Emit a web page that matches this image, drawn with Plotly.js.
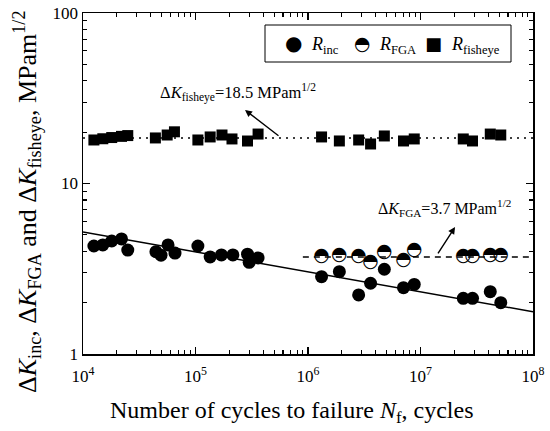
<!DOCTYPE html>
<html><head><meta charset="utf-8">
<script src="https://cdn.plot.ly/plotly-3.0.1.min.js"></script>
<style>html,body{margin:0;padding:0;background:#fff}</style>
</head><body>
<div id="chart" style="width:550px;height:431px"></div>
<script>
// ---- data ----
const N_short_inc = [1.25e4, 1.5e4, 1.8e4, 2.2e4, 2.5e4, 4.45e4, 4.94e4, 5.7e4, 6.57e4, 1.05e5, 1.35e5, 1.7e5, 2.15e5, 2.9e5, 3.0e5, 3.6e5];
const K_inc_short = [4.30, 4.36, 4.60, 4.73, 4.07, 3.98, 3.80, 4.36, 3.91, 4.30, 3.71, 3.81, 3.81, 3.85, 3.45, 3.66];
const N_short_fe = [1.25e4, 1.5e4, 1.8e4, 2.2e4, 2.5e4, 4.4e4, 5.6e4, 6.5e4, 1.05e5, 1.35e5, 1.72e5, 2.11e5, 2.9e5, 3.6e5];
const K_fe_short = [18.0, 18.3, 18.6, 18.9, 19.1, 18.5, 19.25, 20.1, 18.0, 18.75, 19.25, 18.25, 17.75, 19.5];
const N_long = [1.32e6, 1.9e6, 2.82e6, 3.6e6, 4.77e6, 7.06e6, 8.8e6, 2.4e7, 2.9e7, 4.17e7, 5.17e7];
const K_inc_long = [2.84, 3.04, 2.22, 2.60, 3.14, 2.45, 2.56, 2.12, 2.12, 2.32, 2.00];
const K_FGA = [3.76, 3.80, 3.76, 3.45, 3.93, 3.56, 4.07, 3.76, 3.76, 3.80, 3.80];
const K_fe_long = [18.75, 17.76, 18.0, 17.05, 19.0, 17.76, 18.25, 18.25, 17.76, 19.5, 19.25];
// fitted / mean lines
const fitIncN = [1e4, 1e8];
const fitIncK = [5.2, 1.77];
const meanFeN = [1e4, 1e8];
const meanFeK = [18.5, 18.5];
const meanFgaN = [9e5, 1e8];
const meanFgaK = [3.7, 3.7];
const xTickVals = [1e4, 1e5, 1e6, 1e7, 1e8];
const xTickText = ['10<sup>4</sup>', '10<sup>5</sup>', '10<sup>6</sup>', '10<sup>7</sup>', '10<sup>8</sup>'];
const yTickVals = [1, 10, 100];
const yTickText = ['1', '10', '100'];

const SERIF = 'Liberation Serif, Times New Roman, serif';
const GLYPH = 'DejaVu Sans';

const incN = N_short_inc.concat(N_long);
const incK = K_inc_short.concat(K_inc_long);
const feN = N_short_fe.concat(N_long);
const feK = K_fe_short.concat(K_fe_long);

const traces = [
  {x: fitIncN, y: fitIncK, mode: 'lines', line: {color: '#000', width: 1.5}, showlegend: false, hoverinfo: 'skip'},
  {x: meanFeN, y: meanFeK, mode: 'lines', line: {color: '#000', width: 1.6, dash: '2px,5px'}, showlegend: false, hoverinfo: 'skip'},
  {x: meanFgaN, y: meanFgaK, mode: 'lines', line: {color: '#000', width: 1.5, dash: '6px,5px'}, showlegend: false, hoverinfo: 'skip'},
  {x: feN, y: feK, mode: 'markers', name: 'R fisheye',
   marker: {symbol: 'square', size: 11, color: '#000', line: {width: 0}}, showlegend: false},
  {x: N_long, y: K_FGA, mode: 'text', name: 'R FGA', text: N_long.map(() => '◓'),
   textposition: 'middle center', textfont: {family: GLYPH, size: 19, color: '#000'}, showlegend: false},
  {x: incN, y: incK, mode: 'markers', name: 'R inc',
   marker: {symbol: 'circle', size: 13, color: '#000', line: {width: 0}}, showlegend: false}
];

const axCommon = {
  type: 'log', showline: true, linecolor: '#000', linewidth: 1.5, mirror: 'ticks',
  ticks: 'inside', ticklen: 7, tickwidth: 1.3, tickcolor: '#000', showgrid: false, zeroline: false,
  tickfont: {family: SERIF, size: 17, color: '#000'},
  minor: {ticks: 'inside', ticklen: 4, tickwidth: 1.1, tickcolor: '#000', dtick: 'D1', showgrid: false}
};

const px = v => (v - 83) / 450;        // pixel x -> paper
const py = v => 1 - (v - 13) / 341;    // pixel y -> paper

const layout = {
  width: 550, height: 431,
  margin: {l: 83, r: 17, t: 13, b: 77},
  paper_bgcolor: '#fff', plot_bgcolor: '#fff',
  showlegend: false,
  xaxis: Object.assign({}, axCommon, {
    range: [4, 8], tickmode: 'array', tickvals: xTickVals, ticktext: xTickText, ticklabelstandoff: 6
  }),
  yaxis: Object.assign({}, axCommon, {
    range: [0, 2], tickmode: 'array', tickvals: yTickVals, ticktext: yTickText
  }),
  shapes: [
    {type: 'rect', xref: 'paper', yref: 'paper', x0: px(265), x1: px(511), y0: py(62), y1: py(25),
     line: {color: '#000', width: 1}, fillcolor: '#fff', layer: 'above'}
  ],
  annotations: [
    // x axis title
    {xref: 'paper', yref: 'paper', x: px(291), y: py(412), xanchor: 'center', yanchor: 'middle', showarrow: false,
     text: 'Number of cycles to failure <i>N</i><sub>f</sub>, cycles',
     font: {family: SERIF, size: 24, color: '#000'}},
    // y axis title
    {xref: 'paper', yref: 'paper', x: px(27), y: py(202), xanchor: 'center', yanchor: 'middle', textangle: -90, showarrow: false,
     text: 'Δ<i>K</i><sub>inc</sub>, Δ<i>K</i><sub>FGA</sub> and Δ<i>K</i><sub>fisheye</sub>, MPam<sup>1/2</sup>',
     font: {family: SERIF, size: 26, color: '#000'}},
    // fisheye label + arrow
    {xref: 'x', yref: 'y', x: 5.378, y: 1.531, xanchor: 'center', yanchor: 'middle', showarrow: false,
     text: 'Δ<i>K</i><sub>fisheye</sub>=18.5 MPam<sup>1/2</sup>', font: {family: SERIF, size: 16.5, color: '#000'}},
    {xref: 'x', yref: 'y', axref: 'x', ayref: 'y', x: 5.44, y: 1.431, ax: 5.751, ay: 1.273, text: '',
     showarrow: true, arrowhead: 2, arrowsize: 1, arrowwidth: 1.4, arrowcolor: '#000', standoff: 0, startstandoff: 0},
    // FGA label + arrow
    {xref: 'x', yref: 'y', x: 7.209, y: 0.856, xanchor: 'center', yanchor: 'middle', showarrow: false,
     text: 'Δ<i>K</i><sub>FGA</sub>=3.7 MPam<sup>1/2</sup>', font: {family: SERIF, size: 16, color: '#000'}},
    {xref: 'x', yref: 'y', axref: 'x', ayref: 'y', x: 7.307, y: 0.745, ax: 7.147, ay: 0.581, text: '',
     showarrow: true, arrowhead: 2, arrowsize: 1, arrowwidth: 1.4, arrowcolor: '#000', standoff: 0, startstandoff: 0},
    // legend contents
    {xref: 'paper', yref: 'paper', x: px(293), y: py(43), xanchor: 'center', yanchor: 'middle', showarrow: false, text: '●', font: {family: GLYPH, size: 20, color: '#000'}},
    {xref: 'paper', yref: 'paper', x: px(309), y: py(45), xanchor: 'left', yanchor: 'middle', showarrow: false, text: '<i>R</i><sub>inc</sub>', font: {family: SERIF, size: 18, color: '#000'}},
    {xref: 'paper', yref: 'paper', x: px(362), y: py(43), xanchor: 'center', yanchor: 'middle', showarrow: false, text: '◓', font: {family: GLYPH, size: 19, color: '#000'}},
    {xref: 'paper', yref: 'paper', x: px(377), y: py(45), xanchor: 'left', yanchor: 'middle', showarrow: false, text: '<i>R</i><sub>FGA</sub>', font: {family: SERIF, size: 18, color: '#000'}},
    {xref: 'paper', yref: 'paper', x: px(433), y: py(43), xanchor: 'center', yanchor: 'middle', showarrow: false, text: '■', font: {family: GLYPH, size: 18, color: '#000'}},
    {xref: 'paper', yref: 'paper', x: px(449), y: py(45), xanchor: 'left', yanchor: 'middle', showarrow: false, text: '<i>R</i><sub>fisheye</sub>', font: {family: SERIF, size: 18, color: '#000'}}
  ]
};

Plotly.newPlot('chart', traces, layout, {staticPlot: true, displayModeBar: false});
</script>
</body></html>
